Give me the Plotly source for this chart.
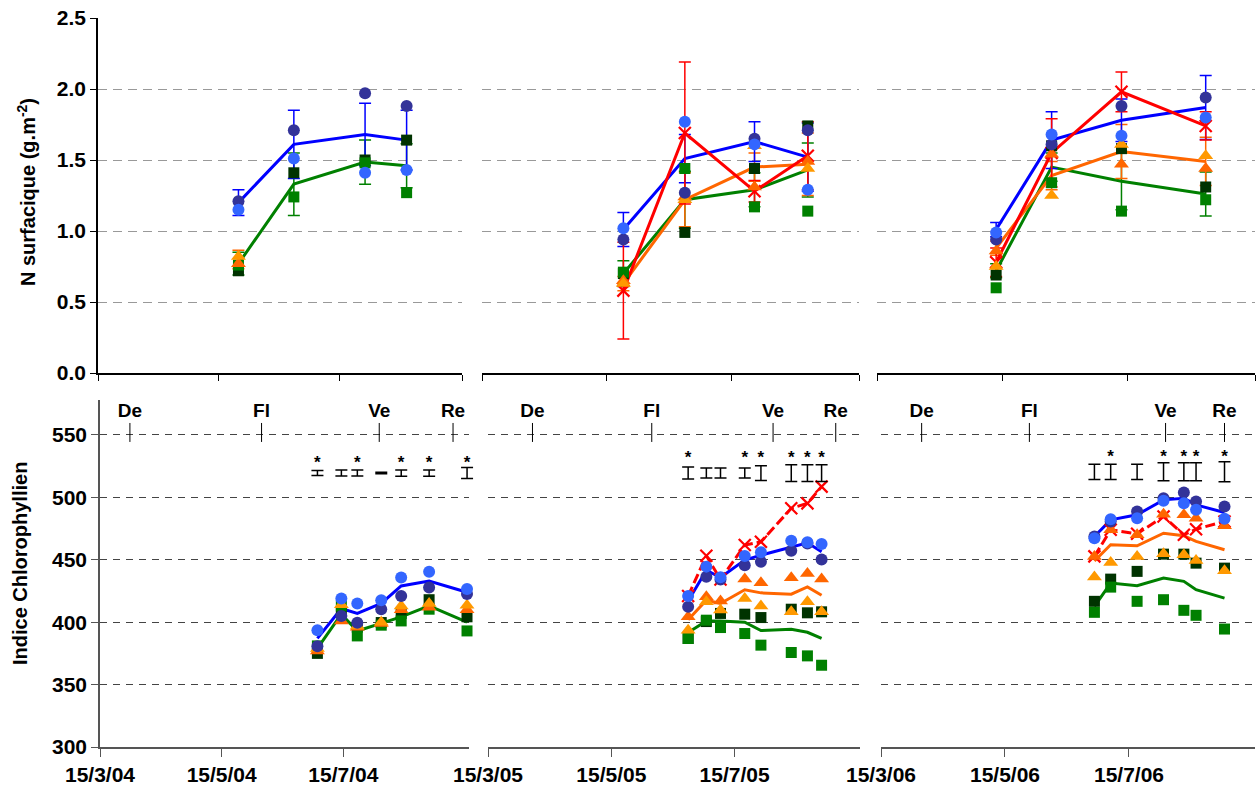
import plotly.graph_objects as go

W, H = 1256, 793

# ================= TOP ROW : N surfacique (g.m-2) =================
top_dates_2004 = ["2004-05-25", "2004-06-22", "2004-07-28", "2004-08-18"]
top_navy_2004 = [1.21, 1.71, 1.97, 1.88]
top_lblue_2004 = [1.15, 1.51, 1.41, 1.43]
top_blue_2004 = [1.20, 1.61, 1.68, 1.64]
top_blue_err_2004 = [0.09, 0.24, 0.22, 0.21]
top_dkgreen_2004 = [0.72, 1.41, 1.50, 1.64]
top_green_2004 = [0.76, 1.24, 1.48, 1.27]
top_gline_2004 = [0.77, 1.33, 1.485, 1.46]
top_gline_err_2004 = [0.08, 0.22, 0.155, 0.155]
top_orlt_2004 = [0.82, None, None, None]
top_ordk_2004 = [0.77, None, None, None]
top_orline_2004 = [0.80, None, None, None]
top_orline_err_2004 = [0.065, None, None, None]
top_red_2004 = [None, None, None, None]
top_red_err_2004 = [None, None, None, None]

top_dates_2005 = ["2005-05-23", "2005-06-22", "2005-07-26", "2005-08-21"]
top_navy_2005 = [0.94, 1.27, 1.65, 1.71]
top_lblue_2005 = [1.02, 1.77, 1.61, 1.29]
top_blue_2005 = [1.01, 1.51, 1.63, 1.52]
top_blue_err_2005 = [0.12, 0.17, 0.14, 0.24]
top_dkgreen_2005 = [0.70, 0.99, 1.44, 1.74]
top_green_2005 = [0.71, 1.44, 1.17, 1.14]
top_gline_2005 = [0.70, 1.22, 1.29, 1.43]
top_gline_err_2005 = [0.09, 0.20, 0.12, 0.19]
top_orlt_2005 = [0.63, 1.22, 1.60, 1.44]
top_ordk_2005 = [0.65, 1.24, 1.31, 1.49]
top_orline_2005 = [0.63, 1.22, 1.45, 1.47]
top_orline_err_2005 = [0.05, 0.19, 0.10, 0.22]
top_red_2005 = [0.58, 1.69, 1.28, 1.53]
top_red_err_2005 = [0.34, 0.50, 0.075, 0.24]

top_dates_2006 = ["2006-05-12", "2006-06-08", "2006-07-12", "2006-08-22"]
top_navy_2006 = [0.94, 1.61, 1.88, 1.94]
top_lblue_2006 = [0.99, 1.68, 1.67, 1.80]
top_blue_2006 = [1.01, 1.64, 1.78, 1.87]
top_blue_err_2006 = [0.05, 0.20, 0.15, 0.225]
top_dkgreen_2006 = [0.69, 1.60, 1.58, 1.31]
top_green_2006 = [0.60, 1.34, 1.14, 1.22]
top_gline_2006 = [0.72, 1.45, 1.35, 1.26]
top_gline_err_2006 = [0.05, 0.10, 0.20, 0.155]
top_orlt_2006 = [0.75, 1.25, 1.61, 1.53]
top_ordk_2006 = [0.86, 1.54, 1.47, 1.44]
top_orline_2006 = [0.88, 1.39, 1.56, 1.49]
top_orline_err_2006 = [0.05, 0.10, 0.19, 0.17]
top_red_2006 = [0.78, 1.55, 1.98, 1.74]
top_red_err_2006 = [0.10, 0.24, 0.14, 0.10]

# ================= BOTTOM ROW : Indice Chlorophyllien =================
bot_dates_2004 = ["2004-07-02", "2004-07-14", "2004-07-22", "2004-08-03",
                  "2004-08-13", "2004-08-27", "2004-09-15"]
bot_navy_2004 = [380.7, 405, 399.5, 410.4, 420.9, 427.8, 422.5]
bot_lblue_2004 = [393.6, 419, 415, 417.6, 435.8, 440.4, 426.5]
bot_blue_2004 = [387, 411, 407, 415, 429, 433, 424]
bot_dkgreen_2004 = [375, 408, 396, 399.7, 407, 418, 404.3]
bot_green_2004 = [381, 413, 389, 397.6, 401, 410.4, 393]
bot_gline_2004 = [379, 406.4, 393, 399, 404.3, 413, 400]
bot_orlt_2004 = [379, 414, 397, 400, 413, 415, 413.6]
bot_ordk_2004 = [377, 401, 396, 399, 410, 412, 410]
bot_orline_2004 = [None, None, None, None, None, None, None]
bot_red_2004 = [None, None, None, None, None, None, None]
lsd_half_2004 = [2.0, 2.4, 2.4, 0.6, 2.5, 2.5, 4.4]
lsd_star_2004 = [True, False, True, False, True, True, True]

bot_dates_2005 = ["2005-06-22", "2005-07-01", "2005-07-08", "2005-07-20",
                  "2005-07-28", "2005-08-12", "2005-08-20", "2005-08-27"]
bot_navy_2005 = [412.3, 436.4, 434.2, 445.7, 448.4, 457.2, 463, 450.3]
bot_lblue_2005 = [421, 444.5, 436, 453, 456, 465.3, 464, 462.6]
bot_blue_2005 = [417, 441.7, 435.8, 449.7, 453.7, 460.4, 463.6, 456.4]
bot_dkgreen_2005 = [386.9, 400.5, 407, 406.4, 403.7, 410.4, 407.5, 408.3]
bot_green_2005 = [386.9, 401.6, 395.7, 390.9, 381.6, 375.7, 373, 365.5]
bot_gline_2005 = [391.7, 401, 401, 400, 393.3, 394.4, 391.9, 387]
bot_orlt_2005 = [393.6, 416.4, 409.7, 419, 412.9, 408.3, 416.4, 408.3]
bot_ordk_2005 = [404.3, 420.3, 417, 434.5, 431.5, 435.5, 439, 434.5]
bot_orline_2005 = [401.9, 417.6, 415, 426, 423.5, 422.4, 428.3, 421.6]
bot_red_2005 = [421, 453.2, 434.2, 461.8, 464.4, 491.2, 495.2, 508.6]
lsd_half_2005 = [4.8, 4.0, 4.0, 4.0, 5.9, 6.7, 6.7, 6.7]
lsd_star_2005 = [True, False, False, True, True, True, True, True]

bot_dates_2006 = ["2006-06-28", "2006-07-06", "2006-07-19", "2006-08-01",
                  "2006-08-11", "2006-08-17", "2006-08-31"]
bot_navy_2006 = [468.7, 480.7, 488.7, 499.3, 503.9, 496.7, 492.7]
bot_lblue_2006 = [467.3, 482.5, 483.3, 497.2, 495.3, 490, 482.8]
bot_blue_2006 = [468.7, 482, 486, 498, 499.3, 494, 487.9]
bot_dkgreen_2006 = [416.7, 434.5, 440.7, 454.5, 454.5, 447.3, 443.3]
bot_green_2006 = [407.9, 428.1, 416.7, 418, 409.5, 405.5, 394.5]
bot_gline_2006 = [412.7, 431.3, 429.2, 435.3, 432.7, 426, 419.3]
bot_orlt_2006 = [436.1, 447.9, 452.7, 454.8, 454, 449.5, 441.2]
bot_ordk_2006 = [452.7, 474, 470, 486.5, 486, 483.3, 477.2]
bot_orline_2006 = [449, 462, 461.2, 471.3, 469.2, 464.7, 458]
bot_red_2006 = [452.7, 474, 470.8, 484.7, 470, 474.5, 480.7]
lsd_half_2006 = [6.1, 6.1, 6.1, 7.2, 7.2, 7.2, 8.0]
lsd_star_2006 = [False, True, False, True, True, True, True]

lsd_center = {2004: 519.5, 2005: 519.5, 2006: 520.5}
star_y = {2004: 527, 2005: 531, 2006: 532}

# Phenological stages (De, Fl, Ve, Re)
stage_labels = ["De", "Fl", "Ve", "Re"]
stage_dates_2004 = ["2004-03-30", "2004-06-04", "2004-08-02", "2004-09-08"]
stage_dates_2005 = ["2005-04-06", "2005-06-04", "2005-08-03", "2005-09-03"]
stage_dates_2006 = ["2006-04-04", "2006-05-27", "2006-08-02", "2006-08-31"]

# ================= STYLES =================
C_NAVY, C_LBLUE, C_BLUE = "#333399", "#3366FF", "#0000FF"
C_DKGREEN, C_GREEN = "#003300", "#008000"
C_ORLT, C_ORDK = "#FF9900", "#FF6600"
C_RED = "#FF0000"
FONT = "Arial, Liberation Sans, sans-serif"

fig = go.Figure()


def has_data(arr):
    return any(v is not None for v in arr)


def err(arr, color):
    return dict(type="data", array=arr, color=color, thickness=1.5, width=6,
                visible=True)


def add(trace, y):
    if has_data(y):
        fig.add_trace(trace)


def add_markers(common, navy, lblue, dkg, grn, orlt, ordk):
    add(go.Scatter(y=dkg, mode="markers",
                   marker=dict(symbol="square", size=11, color=C_DKGREEN), **common), dkg)
    add(go.Scatter(y=grn, mode="markers",
                   marker=dict(symbol="square", size=11, color=C_GREEN), **common), grn)
    add(go.Scatter(y=ordk, mode="markers",
                   marker=dict(symbol="triangle-up", size=13, color=C_ORDK), **common), ordk)
    add(go.Scatter(y=orlt, mode="markers",
                   marker=dict(symbol="triangle-up", size=13, color=C_ORLT), **common), orlt)
    add(go.Scatter(y=navy, mode="markers",
                   marker=dict(symbol="circle", size=12, color=C_NAVY), **common), navy)
    add(go.Scatter(y=lblue, mode="markers",
                   marker=dict(symbol="circle", size=12, color=C_LBLUE), **common), lblue)


def add_top(xa, ya, d, blue, blue_e, gl, gl_e, orl, orl_e, red, red_e,
            navy, lblue, dkg, grn, orlt, ordk):
    common = dict(xaxis=xa, yaxis=ya, x=d, cliponaxis=False, showlegend=False)
    add(go.Scatter(y=gl, mode="lines", line=dict(color=C_GREEN, width=3),
                   error_y=err(gl_e, C_GREEN), **common), gl)
    add(go.Scatter(y=orl, mode="lines", line=dict(color=C_ORDK, width=3),
                   error_y=err(orl_e, C_ORDK), **common), orl)
    add(go.Scatter(y=blue, mode="lines", line=dict(color=C_BLUE, width=3),
                   error_y=err(blue_e, C_BLUE), **common), blue)
    add(go.Scatter(y=red, mode="lines+markers", line=dict(color=C_RED, width=3),
                   marker=dict(symbol="x-thin", size=12, line=dict(color=C_RED, width=2.2)),
                   error_y=err(red_e, C_RED), **common), red)
    add_markers(common, navy, lblue, dkg, grn, orlt, ordk)


def add_bottom(xa, ya, lsd_xa, lsd_ya, year, d, blue, gl, orl, red, navy, lblue, dkg, grn,
               orlt, ordk, lsd, stars, sdates):
    common = dict(xaxis=xa, yaxis=ya, x=d, cliponaxis=False, showlegend=False)
    add(go.Scatter(y=gl, mode="lines", line=dict(color=C_GREEN, width=3), **common), gl)
    add(go.Scatter(y=orl, mode="lines", line=dict(color=C_ORDK, width=3), **common), orl)
    add(go.Scatter(y=blue, mode="lines", line=dict(color=C_BLUE, width=3), **common), blue)
    add(go.Scatter(y=red, mode="lines+markers",
                   line=dict(color=C_RED, width=3, dash="10px,4px"),
                   marker=dict(symbol="x-thin", size=12, line=dict(color=C_RED, width=2.2)),
                   **common), red)
    add_markers(common, navy, lblue, dkg, grn, orlt, ordk)
    # LSD bars (drawn on a twin axis of identical scale, wider so end bars aren't clipped)
    fig.add_trace(go.Scatter(xaxis=lsd_xa, yaxis=lsd_ya, x=d,
                             y=[lsd_center[year]] * len(d), mode="markers",
                             marker=dict(size=1, color="rgba(0,0,0,0)"), showlegend=False,
                             error_y=dict(type="data", array=lsd, color="black",
                                          thickness=1.5, width=6)))
    sx = [dd for dd, s in zip(d, stars) if s]
    fig.add_trace(go.Scatter(xaxis=xa, yaxis=ya, x=sx, y=[star_y[year]] * len(sx),
                             mode="text", text=["*"] * len(sx), cliponaxis=False,
                             showlegend=False,
                             textfont=dict(family=FONT, size=17, color="black", weight="bold")))
    # stage labels
    fig.add_trace(go.Scatter(xaxis=xa, yaxis=ya, x=sdates, y=[568.4] * len(sdates),
                             mode="text", text=stage_labels, cliponaxis=False,
                             showlegend=False,
                             textfont=dict(family=FONT, size=19, color="black", weight="bold")))
    for sd in sdates:
        fig.add_shape(type="line", xref=xa, yref=ya, x0=sd, x1=sd, y0=544.4, y1=559.6,
                      line=dict(color="black", width=1))


add_top("x", "y", top_dates_2004, top_blue_2004, top_blue_err_2004, top_gline_2004,
        top_gline_err_2004, top_orline_2004, top_orline_err_2004, top_red_2004,
        top_red_err_2004, top_navy_2004, top_lblue_2004, top_dkgreen_2004,
        top_green_2004, top_orlt_2004, top_ordk_2004)
add_top("x2", "y2", top_dates_2005, top_blue_2005, top_blue_err_2005, top_gline_2005,
        top_gline_err_2005, top_orline_2005, top_orline_err_2005, top_red_2005,
        top_red_err_2005, top_navy_2005, top_lblue_2005, top_dkgreen_2005,
        top_green_2005, top_orlt_2005, top_ordk_2005)
add_top("x3", "y3", top_dates_2006, top_blue_2006, top_blue_err_2006, top_gline_2006,
        top_gline_err_2006, top_orline_2006, top_orline_err_2006, top_red_2006,
        top_red_err_2006, top_navy_2006, top_lblue_2006, top_dkgreen_2006,
        top_green_2006, top_orlt_2006, top_ordk_2006)

add_bottom("x4", "y4", "x7", "y7", 2004, bot_dates_2004, bot_blue_2004, bot_gline_2004,
           bot_orline_2004, bot_red_2004, bot_navy_2004, bot_lblue_2004, bot_dkgreen_2004,
           bot_green_2004, bot_orlt_2004, bot_ordk_2004, lsd_half_2004, lsd_star_2004,
           stage_dates_2004)
add_bottom("x5", "y5", "x5", "y5", 2005, bot_dates_2005, bot_blue_2005, bot_gline_2005,
           bot_orline_2005, bot_red_2005, bot_navy_2005, bot_lblue_2005, bot_dkgreen_2005,
           bot_green_2005, bot_orlt_2005, bot_ordk_2005, lsd_half_2005, lsd_star_2005,
           stage_dates_2005)
add_bottom("x6", "y6", "x6", "y6", 2006, bot_dates_2006, bot_blue_2006, bot_gline_2006,
           bot_orline_2006, bot_red_2006, bot_navy_2006, bot_lblue_2006, bot_dkgreen_2006,
           bot_green_2006, bot_orlt_2006, bot_ordk_2006, lsd_half_2006, lsd_star_2006,
           stage_dates_2006)

# ================= AXES =================
def px_x(a, b):
    return [a / W, b / W]


def px_y(top, bottom):
    return [1 - bottom / H, 1 - top / H]


tickfont = dict(family=FONT, size=21, color="black", weight="bold")
top_dom_y = px_y(18, 373)
bot_dom_y = px_y(400, 747)
top_x_doms = [px_x(98, 462), px_x(482, 859), px_x(877, 1255)]
bot_x_doms = [px_x(100, 469), px_x(488, 860), px_x(881, 1255)]
bot_x_end = ["2004-09-16", "2005-09-15", "2006-09-15"]
years = [2004, 2005, 2006]

layout = dict(width=W, height=H, margin=dict(l=0, r=0, t=0, b=0, autoexpand=False),
              paper_bgcolor="white", plot_bgcolor="rgba(0,0,0,0)", showlegend=False)

for i, yr in enumerate(years):
    n = "" if i == 0 else str(i + 1)
    yy = str(yr)
    layout["xaxis" + n] = dict(
        domain=top_x_doms[i], anchor="y" + n, type="date", automargin=False,
        range=[yy + "-03-15", yy + "-09-15"],
        tickvals=[yy + "-03-15", yy + "-05-15", yy + "-07-15", yy + "-09-15"],
        showticklabels=False, ticks="outside", ticklen=6, tickcolor="black",
        showline=True, linecolor="black", linewidth=1.5, showgrid=False, zeroline=False)
    layout["yaxis" + n] = dict(
        domain=top_dom_y, anchor="x" + n, range=[0, 2.5], automargin=False,
        tickvals=[0, 0.5, 1.0, 1.5, 2.0, 2.5], tickformat=".1f",
        showticklabels=(i == 0), tickfont=tickfont,
        ticks="outside" if i == 0 else "", ticklen=6, tickcolor="black",
        showline=(i == 0), linecolor="black", linewidth=1.5,
        showgrid=True, gridcolor="#999999", griddash="9px,6px", gridwidth=1,
        zeroline=False)
    m = str(i + 4)
    layout["xaxis" + m] = dict(
        domain=bot_x_doms[i], anchor="y" + m, type="date", automargin=False,
        range=[yy + "-03-15", bot_x_end[i]],
        tickvals=[yy + "-03-15", yy + "-05-15", yy + "-07-15"],
        ticktext=["15/3/" + yy[2:], "15/5/" + yy[2:], "15/7/" + yy[2:]],
        tickfont=tickfont, ticks="outside", ticklen=8, tickcolor="#555555",
        showline=True, linecolor="#555555", linewidth=1.5, showgrid=False,
        zeroline=False)
    layout["yaxis" + m] = dict(
        domain=bot_dom_y, anchor="x" + m, range=[300, 578], automargin=False,
        tickvals=[300, 350, 400, 450, 500, 550],
        showticklabels=(i == 0), tickfont=tickfont,
        ticks="outside" if i == 0 else "", ticklen=7, tickcolor="#555555",
        showline=(i == 0), linecolor="#555555", linewidth=1.5,
        showgrid=True, gridcolor="#444444", griddash="7px,6px", gridwidth=1,
        zeroline=False)

# hidden twin axes for the 2004 LSD bars: same px/day as xaxis4, 20 px wider
layout["xaxis7"] = dict(domain=px_x(100, 489), anchor="y7", type="date", visible=False,
                        automargin=False, range=["2004-03-15", "2004-09-26"])
layout["yaxis7"] = dict(domain=bot_dom_y, anchor="x7", range=[300, 578], visible=False,
                        automargin=False)

layout["annotations"] = [
    dict(text="N surfacique (g.m<sup>-2</sup>)", textangle=-90, xref="paper", yref="paper",
         x=27 / W, y=1 - 192 / H, xanchor="center", yanchor="middle", showarrow=False,
         font=dict(family=FONT, size=20, color="black", weight="bold")),
    dict(text="Indice Chlorophyllien", textangle=-90, xref="paper", yref="paper",
         x=20 / W, y=1 - 564 / H, xanchor="center", yanchor="middle", showarrow=False,
         font=dict(family=FONT, size=20, color="black", weight="bold")),
]

fig.update_layout(**layout)
fig.write_html("out.html")
